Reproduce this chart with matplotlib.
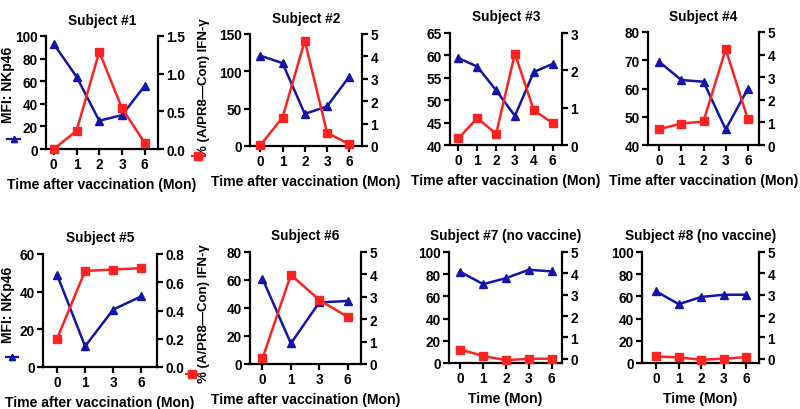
import matplotlib
matplotlib.use("Agg")
import matplotlib.pyplot as plt
from matplotlib.lines import Line2D

plt.rcParams['font.family'] = ['Liberation Sans', 'DejaVu Sans']
plt.rcParams['font.weight'] = 'bold'
plt.rcParams['axes.labelweight'] = 'bold'
plt.rcParams['axes.titleweight'] = 'bold'

BLUE = '#1414a8'
RED = '#ff2222'

# data per subject
titles = ["Subject #1", "Subject #2", "Subject #3", "Subject #4",
          "Subject #5", "Subject #6", "Subject #7 (no vaccine)", "Subject #8 (no vaccine)"]
months = [
    ["0", "1", "2", "3", "6"],
    ["0", "1", "2", "3", "6"],
    ["0", "1", "2", "3", "4", "6"],
    ["0", "1", "2", "3", "6"],
    ["0", "1", "3", "6"],
    ["0", "1", "3", "6"],
    ["0", "1", "2", "3", "6"],
    ["0", "1", "2", "3", "6"],
]
mfi_nkp46 = [
    [93, 64, 25, 30, 56],
    [121, 111, 43, 53, 93],
    [59.4, 57.5, 52.2, 46.5, 56.3, 58.1],
    [69.5, 63, 62.4, 45.5, 60],
    [49, 11, 30.5, 37.5],
    [61, 14.7, 44, 45],
    [82, 71, 76.5, 84, 82.5],
    [64.5, 53, 59.5, 61.5, 61.5],
]
ifng = [
    [0.0, 0.24, 1.29, 0.54, 0.08],
    [0.03, 1.27, 4.7, 0.6, 0.07],
    [0.18, 0.72, 0.3, 2.45, 0.93, 0.59],
    [0.7, 0.95, 1.04, 4.24, 1.14],
    [0.2, 0.68, 0.69, 0.70],
    [0.25, 3.98, 2.86, 2.1],
    [0.43, 0.13, -0.07, 0.0, 0.0],
    [0.11, 0.06, -0.05, 0.0, 0.08],
]
left_ylim = [(0, 100), (0, 150), (40, 65), (40, 80), (0, 60), (0, 80), (0, 100), (0, 100)]
left_step = [20, 50, 5, 10, 20, 20, 20, 20]
right_ylim = [(0, 1.5), (0, 5), (0, 3), (0, 5), (0, 0.8), (0, 5), (-0.2, 5), (-0.2, 5)]
right_ticks = [[0, 0.5, 1.0, 1.5], [0, 1, 2, 3, 4, 5], [0, 1, 2, 3], [0, 1, 2, 3, 4, 5],
               [0, 0.2, 0.4, 0.6, 0.8], [0, 1, 2, 3, 4, 5], [0, 1, 2, 3, 4, 5], [0, 1, 2, 3, 4, 5]]
xlabels = ["Time after vaccination (Mon)"] * 6 + ["Time (Mon)"] * 2

# axes boxes in pixels: left, right, top, bottom
boxes = [(46, 158, 37, 150), (250, 362, 35, 147), (450, 562, 34, 146), (648, 759, 33, 146),
         (43, 157, 255, 368), (250, 361, 253, 365), (449, 562, 253, 364), (642, 759, 253, 364)]
xlims = [(-0.34, 4.58), (-0.46, 4.57), (-0.45, 5.5), (-0.5, 4.5),
         (-0.5, 3.56), (-0.44, 3.47), (-0.5, 4.45), (-0.63, 4.56)]

W, H = 800, 410
fig = plt.figure(figsize=(W / 100, H / 100), dpi=100)


def style_axis(ax):
    for s in ['left', 'right', 'bottom']:
        ax.spines[s].set_linewidth(1.6)
    ax.tick_params(width=1.6, length=4, labelsize=9.8, pad=2)


for i in range(8):
    l, r, t, b = boxes[i]
    ax = fig.add_axes([l / W, 1 - b / H, (r - l) / W, (b - t) / H])
    ax2 = ax.twinx()
    xs = list(range(len(months[i])))

    ax.plot(xs, mfi_nkp46[i], color=BLUE, marker='^', markersize=6, lw=1.8, clip_on=False, zorder=3)
    ax2.plot(xs, ifng[i], color=RED, marker='s', markersize=6, lw=1.8, clip_on=False, zorder=3)

    ax.set_xlim(*xlims[i])
    ax.set_xticks(xs)
    ax.set_xticklabels(months[i])
    ax.set_ylim(*left_ylim[i])
    lo, hi = left_ylim[i]
    ax.set_yticks(list(range(lo, hi + 1, left_step[i])))
    ax2.set_ylim(*right_ylim[i])
    ax2.set_yticks(right_ticks[i])
    if isinstance(right_ticks[i][1], float):
        ax2.set_yticklabels([f"{v:.1f}" for v in right_ticks[i]])

    for a in (ax, ax2):
        a.spines['top'].set_visible(False)
        style_axis(a)
    ax.spines['right'].set_visible(False)
    ax2.spines['left'].set_visible(False)
    ax2.spines['bottom'].set_visible(False)

    ax.set_title(titles[i], fontsize=9.8, pad=9)
    ax.set_xlabel(xlabels[i], fontsize=10.1, labelpad=4)

    # first column carries the axis labels with marker keys
    if i in (0, 4):
        ax.set_ylabel("MFI: NKp46", fontsize=10)
        ax2.set_ylabel("% (A/PR8\u2014Con) IFN-\u03b3", fontsize=9.5, rotation=90)
        if i == 0:
            ax.yaxis.set_label_coords(-0.275, 0.58)
            ax2.yaxis.set_label_coords(1.36, 0.55)
            kb, kr = (-0.29, 0.08), (1.36, -0.07)
        else:
            ax.yaxis.set_label_coords(-0.245, 0.56)
            ax2.yaxis.set_label_coords(1.36, 0.48)
            kb, kr = (-0.27, 0.08), (1.31, -0.07)
        hb = Line2D([], [], color=BLUE, marker='^', markersize=5, lw=1.5)
        hr = Line2D([], [], color=RED, marker='s', markersize=6, lw=1.5)
        lb = ax.legend(handles=[hb], labels=[""], loc='center', bbox_to_anchor=kb,
                       frameon=False, handlelength=0.9, handletextpad=0, borderpad=0)
        ax.add_artist(lb)
        ax2.legend(handles=[hr], labels=[""], loc='center', bbox_to_anchor=kr,
                   frameon=False, handlelength=0.9, handletextpad=0, borderpad=0)

fig.savefig("out.png", dpi=100)
